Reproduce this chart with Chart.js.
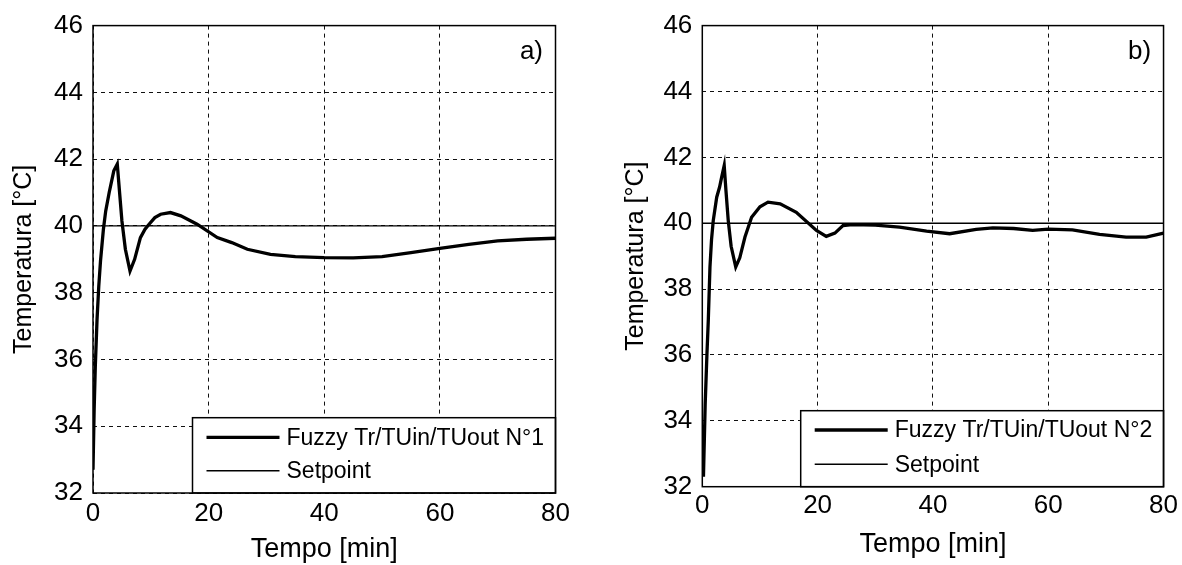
<!DOCTYPE html>
<html><head><meta charset="utf-8">
<script src="https://cdn.jsdelivr.net/npm/chart.js@4.4.1/dist/chart.umd.min.js"></script>
<style>
html,body{margin:0;padding:0;background:#fff;width:1182px;height:565px;overflow:hidden;}
.wrap{position:absolute;top:0;width:591px;height:565px;}
</style></head><body>
<div class="wrap" style="left:0"><canvas id="cA"></canvas></div>
<div class="wrap" style="left:591px"><canvas id="cB"></canvas></div>
<script>
// ---- data ----
const timeA = [0, 0.2, 0.4, 0.7, 1.0, 1.3, 1.8, 2.2, 2.8, 3.6, 4.2, 4.6, 5.0, 5.6, 6.4, 7.2, 8.2, 9.0, 9.7, 10.7, 11.7, 13.4, 15.2, 18.0, 21.5, 24, 26.7, 30.7, 35, 40, 45, 50, 55, 60, 65, 70, 75, 80];
const tempA = [32.7, 34.5, 35.8, 37.2, 38.2, 38.95, 39.9, 40.45, 41.0, 41.65, 41.85, 41.0, 40.15, 39.3, 38.65, 39.0, 39.65, 39.9, 40.05, 40.25, 40.35, 40.4, 40.3, 40.05, 39.65, 39.5, 39.3, 39.15, 39.08, 39.05, 39.04, 39.08, 39.2, 39.33, 39.45, 39.55, 39.6, 39.63];
const timeB = [0.2, 0.5, 0.8, 1.04, 1.33, 1.6, 1.9, 2.5, 3.0, 3.36, 3.8, 4.1, 4.5, 5.0, 5.8, 6.5, 7.4, 8.55, 10, 11.4, 13.5, 16.3, 19.8, 21.5, 23, 24.4, 26, 30, 34.2, 38.9, 42.9, 47.5, 50.4, 54, 57.3, 60, 64.2, 68.9, 73.5, 77, 80];
const tempB = [32.3, 34.5, 36.0, 37.05, 38.67, 39.5, 40.08, 40.79, 41.1, 41.4, 41.75, 41.0, 40.08, 39.3, 38.67, 38.95, 39.58, 40.18, 40.5, 40.64, 40.59, 40.33, 39.78, 39.6, 39.7, 39.93, 39.96, 39.94, 39.88, 39.76, 39.68, 39.81, 39.86, 39.84, 39.78, 39.82, 39.8, 39.66, 39.58, 39.58, 39.7];
const setpointTime = [0, 80];
const setpointValue = [40, 40];
const xTicks = [0, 20, 40, 60, 80];
const yTicks = [32, 34, 36, 38, 40, 42, 44, 46];
const labelA = 'Fuzzy Tr/TUin/TUout N°1';
const labelB = 'Fuzzy Tr/TUin/TUout N°2';
const setpointLabel = 'Setpoint';
const xTitle = 'Tempo [min]';
const yTitle = 'Temperatura [°C]';
const panelA = 'a)';
const panelB = 'b)';

const FONT = '"Liberation Sans", Arial, Helvetica, sans-serif';

const boxLegend = {
  id: 'boxLegend',
  afterDatasetsDraw(chart, args, o) {
    const {ctx, chartArea: a} = chart;
    const x0 = a.left + o.left, y0 = a.bottom - o.height;
    const w = a.right - x0;
    ctx.save();
    ctx.fillStyle = '#fff';
    ctx.fillRect(x0, y0, w, o.height);
    ctx.strokeStyle = '#000';
    ctx.lineWidth = 1.5;
    ctx.strokeRect(x0, y0, w, o.height);
    chart.data.datasets.forEach((ds, i) => {
      const y = y0 + o.rows[i];
      ctx.beginPath();
      ctx.moveTo(x0 + o.lineStart, y);
      ctx.lineTo(x0 + o.lineStart + o.lineLen, y);
      ctx.lineWidth = ds.borderWidth;
      ctx.strokeStyle = ds.borderColor;
      ctx.stroke();
      ctx.fillStyle = '#000';
      ctx.font = o.font;
      ctx.textBaseline = 'middle';
      ctx.textAlign = 'left';
      ctx.fillText(ds.label, x0 + o.textStart, y + 1);
    });
    ctx.restore();
  }
};

const frame = {
  id: 'frame',
  afterDraw(chart, args, o) {
    const {ctx, chartArea: a} = chart;
    ctx.save();
    ctx.strokeStyle = '#000';
    ctx.lineWidth = 1.5;
    ctx.strokeRect(a.left, a.top, a.right - a.left, a.bottom - a.top);
    ctx.fillStyle = '#000';
    ctx.font = o.font;
    ctx.textAlign = 'right';
    ctx.textBaseline = 'middle';
    ctx.fillText(o.text, a.right - o.dx, a.top + o.dy);
    ctx.restore();
  }
};

function makeChart(id, times, temps, label, L) {
  const curve = times.map((t, i) => ({x: t, y: temps[i]}));
  const sp = setpointTime.map((t, i) => ({x: t, y: setpointValue[i]}));
  return new Chart(document.getElementById(id), {
    type: 'line',
    data: {
      datasets: [
        {label: label, data: curve, borderColor: '#000', borderWidth: 3.3, pointRadius: 0, tension: 0, fill: false},
        {label: setpointLabel, data: sp, borderColor: '#000', borderWidth: 1.4, pointRadius: 0, tension: 0, fill: false}
      ]
    },
    options: {
      responsive: true,
      maintainAspectRatio: false,
      animation: false,
      events: [],
      layout: {padding: {left: 0, right: L.padRight, top: L.padTop, bottom: 0}},
      plugins: {
        legend: {display: false},
        tooltip: {enabled: false},
        boxLegend: {left: L.legLeft, height: L.legHeight, rows: L.legRows, lineStart: 14, lineLen: 73, textStart: 94, font: '23px ' + FONT},
        frame: {text: L.panel, dx: 12.5, dy: 26, font: '26px ' + FONT}
      },
      scales: {
        x: {
          type: 'linear',
          min: xTicks[0], max: xTicks[xTicks.length - 1],
          afterBuildTicks: s => { s.ticks = xTicks.map(v => ({value: v})); },
          afterFit: s => { s.height = L.xAxisH; },
          grid: {color: '#111', lineWidth: 1, drawTicks: false},
          border: {display: false, dash: [4, 4]},
          ticks: {color: '#000', font: {family: FONT, size: 26}, padding: L.xTickPad, maxRotation: 0, autoSkip: false},
          title: {display: true, text: xTitle, color: '#000', font: {family: FONT, size: 27}, padding: {top: 0, bottom: L.xTitlePad}}
        },
        y: {
          type: 'linear',
          min: yTicks[0], max: yTicks[yTicks.length - 1],
          afterBuildTicks: s => { s.ticks = yTicks.map(v => ({value: v})); },
          afterFit: s => { s.width = L.yAxisW; },
          grid: {color: '#111', lineWidth: 1, drawTicks: false},
          border: {display: false, dash: [4, 4]},
          ticks: {color: '#000', font: {family: FONT, size: 26}, padding: 10, autoSkip: false},
          title: {display: true, text: yTitle, color: '#000', font: {family: FONT, size: 25}, padding: {top: L.yTitlePad, bottom: 0}}
        }
      }
    },
    plugins: [boxLegend, frame]
  });
}

makeChart('cA', timeA, tempA, labelA, {
  padRight: 35.5, padTop: 25, xAxisH: 72, yAxisW: 93, xTickPad: 5, xTitlePad: -1, yTitlePad: 9,
  legLeft: 99.5, legHeight: 75.3, legRows: [19.6, 53], panel: panelA
});
makeChart('cB', timeB, tempB, labelB, {
  padRight: 18, padTop: 25, xAxisH: 78.3, yAxisW: 111.3, xTickPad: 4, xTitlePad: 4, yTitlePad: 30,
  legLeft: 98.4, legHeight: 76, legRows: [19.3, 53.6], panel: panelB
});
</script>
</body></html>
